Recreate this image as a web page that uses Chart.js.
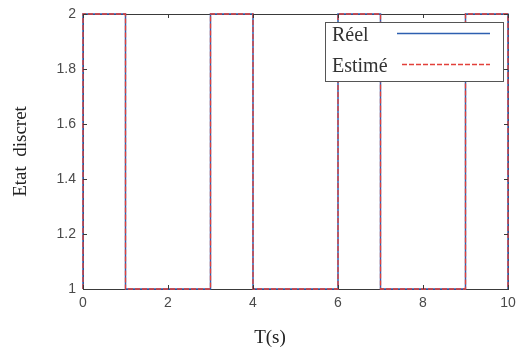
<!DOCTYPE html>
<html>
<head>
<meta charset="utf-8">
<script src="https://cdn.jsdelivr.net/npm/chart.js@4/dist/chart.umd.min.js"></script>
<style>
  html, body { margin: 0; padding: 0; background: #fff; }
  #wrap { width: 518px; height: 353px; }
</style>
</head>
<body>
<div id="wrap"><canvas id="etatChart" width="518" height="353"></canvas></div>
<script>
// switching instants and discrete state (real vs estimated)
const times  = [0, 0, 1, 3, 4, 6, 7, 9, 10, 10];
const reel   = [1, 2, 1, 2, 1, 2, 1, 2, 2, 1];
const estime = [1, 2, 1, 2, 1, 2, 1, 2, 2, 1];
const seriesNames = ['Réel', 'Estimé'];
const xTicks = [0, 2, 4, 6, 8, 10];
const yTicks = [1, 1.2, 1.4, 1.6, 1.8, 2];

const blue = '#2d5fb0';
const red = '#e2403a';
const frameColor = '#3a3a3a';
const tickFont = { family: 'Liberation Sans', size: 14 };
const serif = 'Liberation Serif';

function points(values) {
    return times.map((t, i) => ({ x: t, y: values[i] }));
}

// matlab-like frame: inward ticks, boxed legend, x label
const frameExtras = {
    id: 'frameExtras',
    afterDraw(chart) {
        const ctx = chart.ctx;
        const area = chart.chartArea;
        const xs = chart.scales.x;
        const ys = chart.scales.y;
        const len = 4;

        ctx.save();
        ctx.strokeStyle = frameColor;
        ctx.lineWidth = 1;
        ctx.beginPath();
        xTicks.forEach(v => {
            const px = Math.round(xs.getPixelForValue(v)) + 0.5;
            ctx.moveTo(px, area.bottom);
            ctx.lineTo(px, area.bottom - len);
            ctx.moveTo(px, area.top);
            ctx.lineTo(px, area.top + len);
        });
        yTicks.forEach(v => {
            const py = Math.round(ys.getPixelForValue(v)) + 0.5;
            ctx.moveTo(area.left, py);
            ctx.lineTo(area.left + len, py);
            ctx.moveTo(area.right, py);
            ctx.lineTo(area.right - len, py);
        });
        ctx.stroke();

        // legend box
        const boxW = 178, boxH = 59;
        const bx = area.right - 5 - boxW;
        const by = area.top + 8;
        ctx.fillStyle = '#fff';
        ctx.fillRect(bx, by, boxW, boxH);
        ctx.strokeStyle = '#555';
        ctx.strokeRect(bx + 0.5, by + 0.5, boxW, boxH);

        ctx.font = '20px "' + serif + '"';
        ctx.fillStyle = '#333';
        ctx.textBaseline = 'alphabetic';
        ctx.textAlign = 'left';
        chart.data.datasets.forEach((ds, i) => {
            const ty = by + 19 + i * 31;
            ctx.fillText(ds.label, bx + 7, ty);
            const ly = Math.round(ty - 8) + 0.5;
            ctx.strokeStyle = ds.borderColor;
            ctx.lineWidth = ds.borderWidth;
            ctx.setLineDash(ds.borderDash || []);
            ctx.beginPath();
            ctx.moveTo(i === 0 ? bx + 72 : bx + 77, ly);
            ctx.lineTo(bx + 165, ly);
            ctx.stroke();
            ctx.setLineDash([]);
        });

        // x axis label
        ctx.font = '19px "' + serif + '"';
        ctx.fillStyle = '#222';
        ctx.textAlign = 'center';
        ctx.textBaseline = 'middle';
        ctx.fillText('T(s)', area.left + (area.right - area.left) * 0.44, area.bottom + 49);
        ctx.restore();
    }
};

new Chart(document.getElementById('etatChart'), {
    type: 'line',
    data: {
        datasets: [
            {
                label: seriesNames[0],
                data: points(reel),
                borderColor: blue,
                borderWidth: 1.5,
                stepped: true,
                pointRadius: 0,
                fill: false,
                clip: false,
                order: 1
            },
            {
                label: seriesNames[1],
                data: points(estime),
                borderColor: red,
                borderWidth: 1.3,
                borderDash: [5, 2],
                stepped: true,
                pointRadius: 0,
                fill: false,
                clip: false,
                order: 0
            }
        ]
    },
    options: {
        responsive: false,
        animation: false,
        devicePixelRatio: 1,
        layout: { padding: { left: 0, right: 0, top: 0, bottom: 0 } },
        plugins: {
            legend: { display: false },
            tooltip: { enabled: false }
        },
        scales: {
            x: {
                type: 'linear',
                position: 'bottom',
                min: 0,
                max: 10,
                afterBuildTicks: s => { s.ticks = xTicks.map(v => ({ value: v })); },
                afterFit: s => { s.height = 64; s.paddingLeft = 0; s.paddingRight = 0; },
                ticks: { color: '#4a4a4a', font: tickFont, padding: 6, maxRotation: 0 },
                grid: { drawOnChartArea: false, drawTicks: false },
                border: { display: true, color: frameColor, width: 1 }
            },
            x2: {
                type: 'linear',
                position: 'top',
                min: 0,
                max: 10,
                afterFit: s => { s.height = 14; s.paddingLeft = 0; s.paddingRight = 0; },
                ticks: { display: false },
                grid: { drawOnChartArea: false, drawTicks: false },
                border: { display: true, color: frameColor, width: 1 }
            },
            y: {
                type: 'linear',
                position: 'left',
                min: 1,
                max: 2,
                afterBuildTicks: s => { s.ticks = yTicks.map(v => ({ value: v })); },
                afterFit: s => { s.width = 83; s.paddingTop = 0; s.paddingBottom = 0; },
                ticks: {
                    color: '#4a4a4a',
                    font: tickFont,
                    padding: 7,
                    callback: v => String(Math.round(v * 10) / 10)
                },
                grid: { drawOnChartArea: false, drawTicks: false },
                border: { display: true, color: frameColor, width: 1 },
                title: {
                    display: true,
                    text: 'Etat  discret',
                    color: '#222',
                    font: { family: serif, size: 19 },
                    padding: { top: 10, bottom: 0 }
                }
            },
            y2: {
                type: 'linear',
                position: 'right',
                min: 1,
                max: 2,
                afterFit: s => { s.width = 10; s.paddingTop = 0; s.paddingBottom = 0; },
                ticks: { display: false },
                grid: { drawOnChartArea: false, drawTicks: false },
                border: { display: true, color: frameColor, width: 1 }
            }
        }
    },
    plugins: [frameExtras]
});
</script>
</body>
</html>
